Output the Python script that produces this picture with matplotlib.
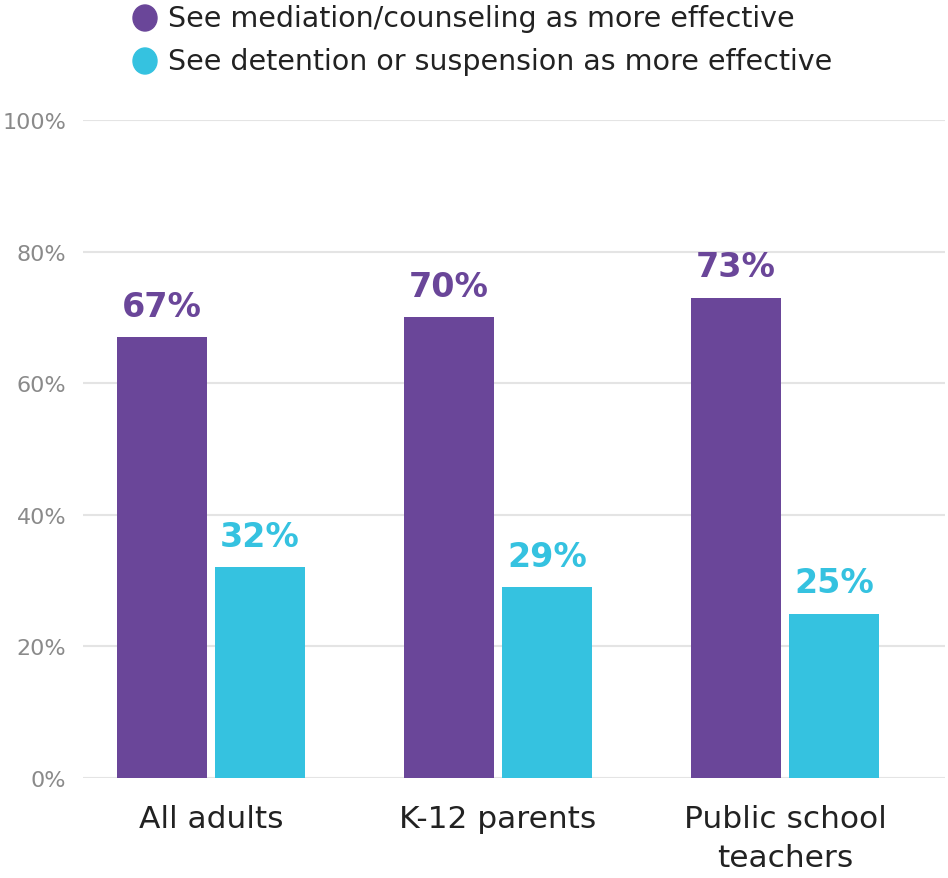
import matplotlib
matplotlib.use("Agg")
import matplotlib.pyplot as plt
import numpy as np

categories = ["All adults", "K-12 parents", "Public school\nteachers"]
mediation = [67, 70, 73]
detention = [32, 29, 25]
series_names = ["See mediation/counseling as more effective",
                "See detention or suspension as more effective"]
yticks = [0, 20, 40, 60, 80, 100]

PURPLE = "#6A4699"
CYAN = "#35C2E0"

plt.rcParams["font.family"] = ["DejaVu Sans"]

fig = plt.figure(figsize=(9.48, 8.79), dpi=100)
W, H = 948, 879
ax = fig.add_axes([83 / W, 1 - 779 / H, (945 - 83) / W, (779 - 121) / H])

x = np.arange(len(categories))
bw = 0.3136
off = 0.1707
b1 = ax.bar(x - off, mediation, bw, color=PURPLE, zorder=3)
b2 = ax.bar(x + off, detention, bw, color=CYAN, zorder=3)

for rect, v in zip(b1, mediation):
    ax.text(rect.get_x() + rect.get_width() / 2, v + 2.2, f"{v}%",
            ha="center", va="bottom", fontsize=24, fontweight="bold", color=PURPLE)
for rect, v in zip(b2, detention):
    ax.text(rect.get_x() + rect.get_width() / 2, v + 2.2, f"{v}%",
            ha="center", va="bottom", fontsize=24, fontweight="bold", color=CYAN)

ax.set_xlim(-0.446, 2.557)
ax.set_ylim(0, 100)
ax.set_yticks(yticks)
ax.set_yticklabels([f"{t}%" for t in yticks], fontsize=16, color="#8a8a8a")
ax.set_xticks(x)
ax.set_xticklabels(categories, fontsize=22.5, color="#222222", linespacing=1.42)
ax.tick_params(axis="both", length=0)
ax.tick_params(axis="y", pad=12)
ax.tick_params(axis="x", pad=19)
ax.grid(axis="y", color="#e4e4e4", linewidth=1.5, zorder=0)
for s in ax.spines.values():
    s.set_visible(False)

# legend with round markers
for i, (name, col) in enumerate(zip(series_names, [PURPLE, CYAN])):
    yy = 1 - (19 + 43 * i) / H
    fig.patches.append(matplotlib.patches.Ellipse((145 / W, yy), 24 / W, 26 / H,
                                                  transform=fig.transFigure,
                                                  color=col, figure=fig))
    fig.text(168 / W, yy, name, fontsize=20.5, color="#222222", va="center", ha="left")

fig.savefig("out.png", dpi=100)
